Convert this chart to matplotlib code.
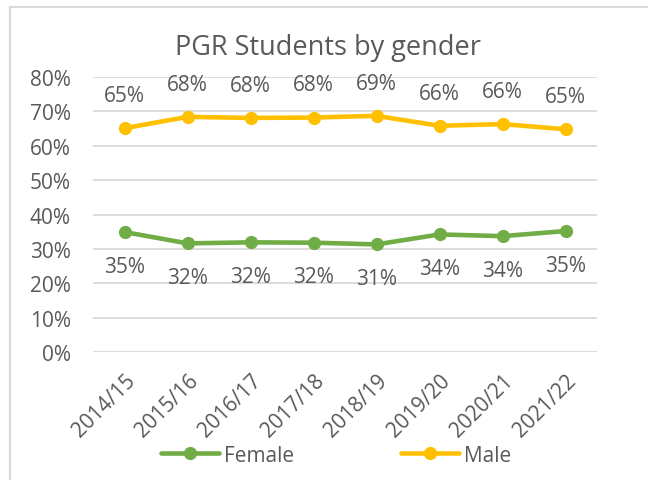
import matplotlib
matplotlib.use('Agg')
import matplotlib.pyplot as plt
from matplotlib.lines import Line2D
from matplotlib.ticker import PercentFormatter

years = ['2014/15', '2015/16', '2016/17', '2017/18', '2018/19', '2019/20', '2020/21', '2021/22']
female = [34.9, 31.6, 31.9, 31.8, 31.3, 34.2, 33.7, 35.2]
male = [65.1, 68.4, 68.1, 68.2, 68.7, 65.8, 66.3, 64.8]
female_labels = ['35%', '32%', '32%', '32%', '31%', '34%', '34%', '35%']
male_labels = ['65%', '68%', '68%', '68%', '69%', '66%', '66%', '65%']

plt.rcParams['font.family'] = ['Open Sans', 'DejaVu Sans']
text_col = '#595959'
green = '#70AD47'
gold = '#FFC000'

W, H = 648, 481
fig = plt.figure(figsize=(W / 100, H / 100), dpi=100)
ax = fig.add_axes([93 / W, 1 - 353 / H, (597 - 93) / W, (353 - 78) / H])

x = list(range(len(years)))
ax.plot(x, female, color=green, lw=3.3, marker='o', ms=8.5, label='Female',
        solid_capstyle='round', zorder=3)
ax.plot(x, male, color=gold, lw=3.3, marker='o', ms=8.5, label='Male',
        solid_capstyle='round', zorder=3)

for i in x:
    ax.annotate(male_labels[i], (i, male[i]), xytext=(0, 23.5), textcoords='offset points',
                ha='center', va='center', fontsize=15, color=text_col)
    ax.annotate(female_labels[i], (i, female[i]), xytext=(0, -24.5), textcoords='offset points',
                ha='center', va='center', fontsize=15, color=text_col)

ax.set_xlim(-0.5, len(years) - 0.5)
ax.set_ylim(0, 80)
ax.set_yticks(range(0, 81, 10))
ax.yaxis.set_major_formatter(PercentFormatter(decimals=0))
ax.set_xticks(x)
ax.set_xticklabels(years, rotation=45, ha='right', va='top', rotation_mode='anchor')
ax.tick_params(axis='both', length=0, labelsize=15, labelcolor=text_col)
ax.tick_params(axis='y', pad=16)
ax.tick_params(axis='x', pad=13)
ax.grid(axis='y', color='#d9d9d9', lw=1.3)
ax.set_axisbelow(True)
for s in ax.spines.values():
    s.set_visible(False)

fig.text(328 / W, 1 - 48 / H, 'PGR Students by gender', ha='center', va='center',
         fontsize=19.5, color=text_col)

fig.legend(loc='center', bbox_to_anchor=(336 / W, 1 - 456 / H), ncol=2, frameon=False,
           fontsize=15, labelcolor=text_col, handlelength=2.8, handletextpad=0.25,
           columnspacing=5.1)

# chart border (top and left only visible)
fig.add_artist(Line2D([10 / W, 1], [1 - 8 / H, 1 - 8 / H], color='#d9d9d9', lw=1.5,
                      transform=fig.transFigure))
fig.add_artist(Line2D([10 / W, 10 / W], [0, 1 - 8 / H], color='#d9d9d9', lw=1.5,
                      transform=fig.transFigure))

fig.savefig('out.png', dpi=100, facecolor='white')
